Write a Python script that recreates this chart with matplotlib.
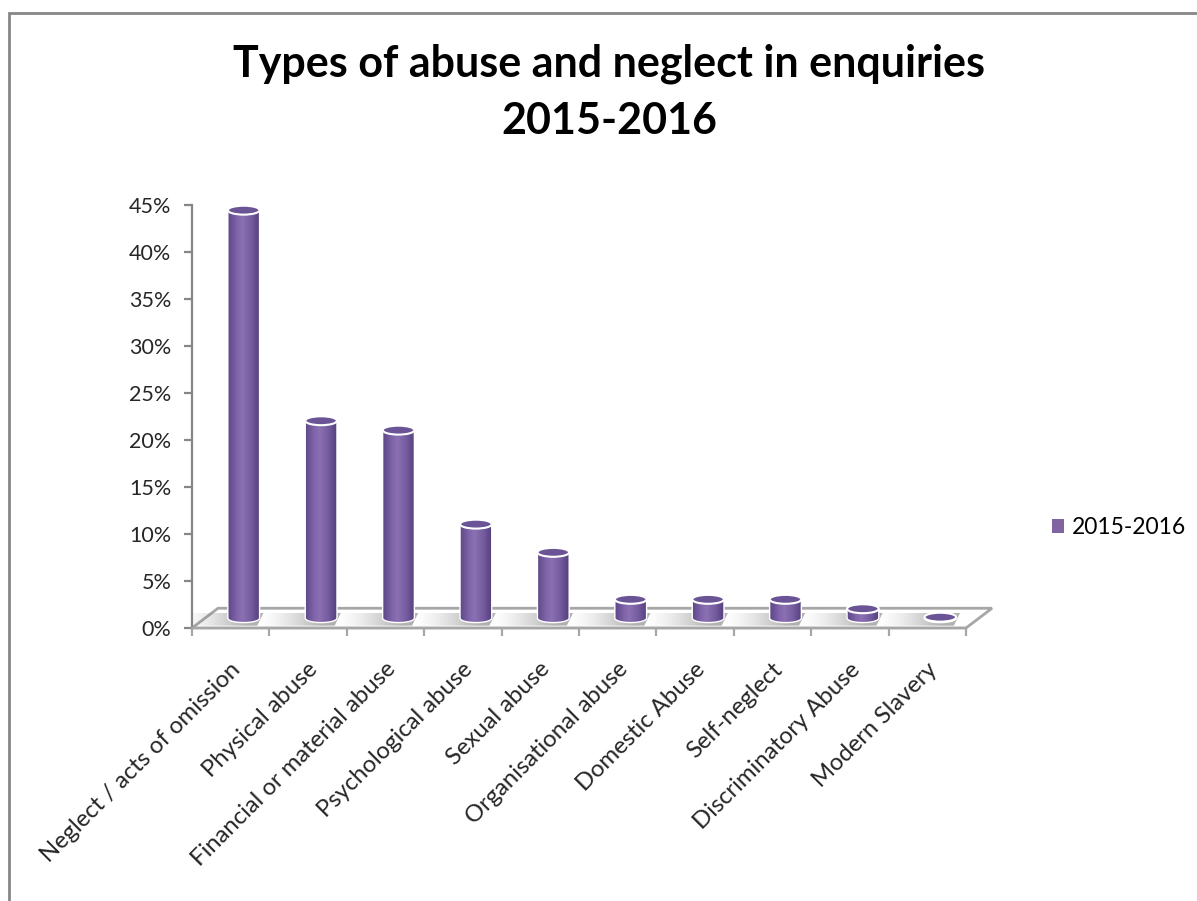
import numpy as np
import matplotlib
matplotlib.use('Agg')
import matplotlib.pyplot as plt
from matplotlib.patches import Polygon, Ellipse, Rectangle, Patch, PathPatch
from matplotlib.path import Path
from matplotlib.colors import LinearSegmentedColormap
from matplotlib.transforms import ScaledTranslation

# data (percent of enquiries)
categories = ['Neglect / acts of omission', 'Physical abuse', 'Financial or material abuse',
              'Psychological abuse', 'Sexual abuse', 'Organisational abuse', 'Domestic Abuse',
              'Self-neglect', 'Discriminatory Abuse', 'Modern Slavery']
values = [43.4, 21.0, 20.0, 10.0, 7.0, 2.0, 2.0, 2.0, 1.0, 0.1]
series_name = '2015-2016'
title_lines = ['Types of abuse and neglect in enquiries', '2015-2016']
yticks = [0, 5, 10, 15, 20, 25, 30, 35, 40, 45]

W, H = 1197, 901
GRAY = '#868686'
DX, DY = 0.336, 2.1      # fake 3d depth offset in data units
BAR_W, ELL_H = 0.41, 0.95

body_cmap = LinearSegmentedColormap.from_list(
    'cyl', [(0, '#5e4989'), (0.3, '#8166ab'), (0.45, '#8b71b2'), (0.75, '#735b9f'), (1, '#553f7c')])

fig = plt.figure(figsize=(W / 100, H / 100), dpi=100)
fig.patch.set_facecolor('white')

# outer chart frame (runs off the right and bottom of the picture)
fig.patches.append(Rectangle((9 / W, -0.1), 1.2, 1 - 13 / H + 0.1, transform=fig.transFigure,
                             fill=False, ec=GRAY, lw=2))

ax = fig.add_axes([192 / W, (H - 628) / H, 774 / W, 423 / H])


def cylinder(ax, cx, base, h):
    left, right = cx - BAR_W / 2, cx + BAR_W / 2
    t = np.linspace(0, np.pi, 50)
    arc = np.column_stack([cx + BAR_W / 2 * np.cos(t), base - ELL_H / 2 * np.sin(t)])
    verts = np.vstack([[[left, base + h], [right, base + h]], arc, [[left, base + h]]])
    codes = [Path.MOVETO] + [Path.LINETO] * (len(verts) - 2) + [Path.CLOSEPOLY]
    body = PathPatch(Path(verts, codes), fc='none', ec='white', lw=1.0, zorder=4)
    ax.add_patch(body)
    grad = np.linspace(0, 1, 64).reshape(1, -1)
    im = ax.imshow(grad, extent=[left, right, base - ELL_H / 2, base + h], aspect='auto',
                   cmap=body_cmap, origin='lower', zorder=3, interpolation='bilinear')
    im.set_clip_path(body)
    ax.add_patch(Ellipse((cx, base + h), BAR_W, ELL_H, fc='#6a5496', ec='white', lw=1.5, zorder=5))


def shadow(ax, cx, base):
    x0, x1 = cx - BAR_W / 2 - 0.62, cx + BAR_W / 2 + 0.05
    y0, y1 = base - 0.8, base + 0.55
    rgba = np.zeros((1, 64, 4))
    rgba[..., :3] = 0.45
    a = np.linspace(0, 1, 64)
    rgba[0, :, 3] = 0.55 * np.clip(a * 1.3, 0, 1) ** 1.5
    clip = Polygon([(x0 + 0.08, y1), (x1, y1), (x1 - 0.08, y0), (x0, y0)], closed=True,
                   fc='none', ec='none', transform=ax.transData)
    ax.add_patch(clip)
    im = ax.imshow(rgba, extent=[x0, x1, y0, y1], aspect='auto', origin='lower', zorder=2,
                   interpolation='bilinear')
    im.set_clip_path(clip)


x = np.arange(len(categories))

# floor
floor = Polygon([(-0.5, 0), (len(categories) - 0.5, 0),
                 (len(categories) - 0.5 + DX, DY), (-0.5 + DX, DY)],
                closed=True, fc='white', ec='#a6a6a6', lw=2, zorder=1, clip_on=False)
ax.add_patch(floor)

for xi, v in zip(x, values):
    shadow(ax, xi + DX / 2, DY / 2)
    cylinder(ax, xi + DX / 2, DY / 2, v)

ax.set_xlim(-0.5, len(categories) - 0.5)
ax.set_ylim(0, 45)

for s in ['top', 'right']:
    ax.spines[s].set_visible(False)
ax.spines['left'].set_color(GRAY)
ax.spines['left'].set_linewidth(1.6)
ax.spines['bottom'].set_color('#a6a6a6')
ax.spines['bottom'].set_linewidth(1.6)
ax.patch.set_alpha(0)

ax.set_yticks(yticks)
ax.set_yticklabels([f'{v}%' for v in yticks], fontsize=15.5, family='Lato', color='#262626')
ax.tick_params(axis='y', direction='out', length=6, width=1.6, color=GRAY, pad=9)

ax.set_xticks(np.arange(-0.5, len(categories), 1))
ax.set_xticklabels([])
ax.tick_params(axis='x', which='major', direction='out', length=6, width=1.6, color='#a6a6a6')
ax.set_xticks(x, minor=True)
ax.set_xticklabels(categories, minor=True, rotation=45, ha='right', va='top',
                   rotation_mode='anchor', fontsize=17.2, family='Lato', color='#262626')
ax.tick_params(axis='x', which='minor', length=0, pad=22)
for lab in ax.get_xticklabels(minor=True):
    lab.set_transform(lab.get_transform() + ScaledTranslation(-0.01, 0, fig.dpi_scale_trans))

# title
fig.text(609 / W, 1 - 64 / H, title_lines[0], ha='center', va='center', fontsize=31,
         fontweight='bold', family='Lato')
fig.text(609 / W, 1 - 121 / H, title_lines[1], ha='center', va='center', fontsize=31,
         fontweight='bold', family='Lato')

fig.legend(handles=[Patch(facecolor='#8064a2', label=series_name)], loc='center left',
           bbox_to_anchor=(1031 / W, 1 - 528 / H), frameon=False, handlelength=0.55,
           handleheight=0.55, handletextpad=0.35, prop={'family': 'Lato', 'size': 16.5})

fig.savefig('out.png', dpi=100)
